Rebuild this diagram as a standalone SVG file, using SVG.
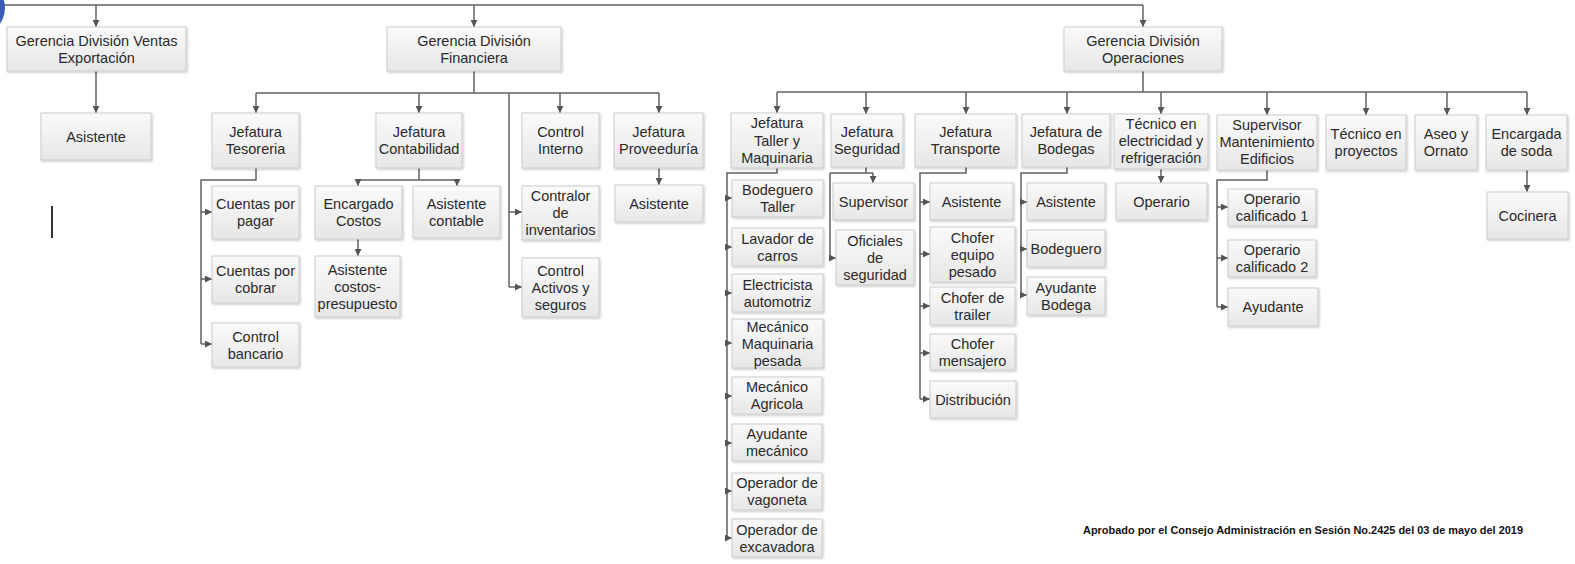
<svg xmlns="http://www.w3.org/2000/svg" width="1575" height="564" viewBox="0 0 1575 564">
  <defs>
    <linearGradient id="boxFill" x1="0" y1="0" x2="0" y2="1">
      <stop offset="0" stop-color="#fafafa"/>
      <stop offset="1" stop-color="#e7e7e7"/>
    </linearGradient>
    <filter id="shadow" x="-10%" y="-10%" width="130%" height="140%">
      <feDropShadow dx="1" dy="1.2" stdDeviation="0.8" flood-color="#000" flood-opacity="0.22"/>
    </filter>
    <marker id="ah" viewBox="0 0 10 10" refX="10" refY="5" markerWidth="7" markerHeight="7" markerUnits="userSpaceOnUse" orient="auto">
      <path d="M0,0 L10,5 L0,10 z" fill="#555"/>
    </marker>
  </defs>
  <style>
    .box { fill: url(#boxFill); stroke: #cdcdcd; stroke-width: 1; filter: url(#shadow); }
    .lbl { font-family: "Liberation Sans", Arial, sans-serif; font-size: 14.5px; fill: #2a2a2a; text-anchor: middle; }
    .wire { fill: none; stroke: #606060; stroke-width: 1.5; }
    .arr { fill: none; stroke: #606060; stroke-width: 1.5; marker-end: url(#ah); }
    .note { font-family: "Liberation Sans", Arial, sans-serif; font-size: 10.5px; font-weight: bold; fill: #111; }
  </style>

  <rect width="1575" height="564" fill="#fff"/>

  <!-- corner badge -->
  <circle cx="-22" cy="8" r="27" fill="#3a5cb8"/>

  <!-- stray cursor mark -->
  <line x1="52" y1="206" x2="52" y2="238" stroke="#000" stroke-width="1.6"/>

  <!-- connectors -->
  <g id="connectors">
    <!-- top bus -->
    <path class="wire" d="M4 5 H1143"/>
    <path class="arr" d="M96 5 V27"/>
    <path class="arr" d="M474 5 V27"/>
    <path class="arr" d="M1143 5 V27"/>

    <!-- ventas -->
    <path class="arr" d="M96 71 V113"/>

    <!-- financiera -->
    <path class="wire" d="M474 71 V93 M256 93 H659 M509 93 V287"/>
    <path class="arr" d="M256 93 V113"/>
    <path class="arr" d="M419 93 V113"/>
    <path class="arr" d="M560 93 V113"/>
    <path class="arr" d="M659 93 V113"/>
    <path class="arr" d="M509 212 H522"/>
    <path class="arr" d="M509 287 H522"/>

    <!-- tesoreria -->
    <path class="wire" d="M256 168 V180 H201 V344"/>
    <path class="arr" d="M201 212 H212"/>
    <path class="arr" d="M201 279 H212"/>
    <path class="arr" d="M201 344 H212"/>

    <!-- contabilidad -->
    <path class="wire" d="M419 168 V180 M358 180 H457"/>
    <path class="arr" d="M358 180 V186"/>
    <path class="arr" d="M457 180 V186"/>
    <path class="arr" d="M358 239 V256"/>

    <!-- proveeduria -->
    <path class="arr" d="M659 168 V185"/>

    <!-- operaciones -->
    <path class="wire" d="M1143 71 V92 M777 92 H1527"/>
    <path class="arr" d="M777 92 V113"/>
    <path class="arr" d="M866 92 V114"/>
    <path class="arr" d="M966 92 V114"/>
    <path class="arr" d="M1067 92 V114"/>
    <path class="arr" d="M1161 92 V114"/>
    <path class="arr" d="M1267 92 V115"/>
    <path class="arr" d="M1366 92 V115"/>
    <path class="arr" d="M1447 92 V115"/>
    <path class="arr" d="M1527 92 V115"/>

    <!-- taller -->
    <path class="wire" d="M777 168 V173 H727 V538"/>
    <path class="arr" d="M727 198 H732"/>
    <path class="arr" d="M727 247 H732"/>
    <path class="arr" d="M727 293 H732"/>
    <path class="arr" d="M727 343 H732"/>
    <path class="arr" d="M727 396 H732"/>
    <path class="arr" d="M727 443 H732"/>
    <path class="arr" d="M727 491 H732"/>
    <path class="arr" d="M727 538 H732"/>

    <!-- seguridad -->
    <path class="wire" d="M866 167 V173 M830 173 H873 M830 173 V258"/>
    <path class="arr" d="M873 173 V183"/>
    <path class="arr" d="M830 258 H836"/>

    <!-- transporte -->
    <path class="wire" d="M966 167 V173 H920 V399"/>
    <path class="arr" d="M920 202 H930"/>
    <path class="arr" d="M920 254 H930"/>
    <path class="arr" d="M920 306 H930"/>
    <path class="arr" d="M920 353 H930"/>
    <path class="arr" d="M920 399 H930"/>

    <!-- bodegas -->
    <path class="wire" d="M1067 167 V173 H1021 V295"/>
    <path class="arr" d="M1021 202 H1027"/>
    <path class="arr" d="M1021 249 H1027"/>
    <path class="arr" d="M1021 295 H1027"/>

    <!-- tecnico electricidad -->
    <path class="arr" d="M1161 169 V183"/>

    <!-- mantenimiento -->
    <path class="wire" d="M1267 170 V180 H1217 V307"/>
    <path class="arr" d="M1217 207 H1228"/>
    <path class="arr" d="M1217 258 H1228"/>
    <path class="arr" d="M1217 307 H1228"/>

    <!-- soda -->
    <path class="arr" d="M1527 170 V192"/>
  </g>

  <!-- top level -->
  <g id="n-ventas"><rect class="box" x="7" y="27" width="179" height="44"/>
    <text class="lbl" x="96.5" y="45.5">Gerencia División Ventas</text><text class="lbl" x="96.5" y="62.5">Exportación</text></g>
  <g id="n-ventas-asistente"><rect class="box" x="41" y="113" width="110" height="47"/>
    <text class="lbl" x="96" y="141.5">Asistente</text></g>
  <g id="n-financiera"><rect class="box" x="387" y="27" width="174" height="44"/>
    <text class="lbl" x="474" y="45.5">Gerencia División</text><text class="lbl" x="474" y="62.5">Financiera</text></g>
  <g id="n-operaciones"><rect class="box" x="1064" y="27" width="158" height="44"/>
    <text class="lbl" x="1143" y="45.5">Gerencia División</text><text class="lbl" x="1143" y="62.5">Operaciones</text></g>

  <!-- financiera -->
  <g id="n-tesoreria"><rect class="box" x="212" y="113" width="87" height="55"/>
    <text class="lbl" x="255.5" y="137">Jefatura</text><text class="lbl" x="255.5" y="154">Tesoreria</text></g>
  <g id="n-contabilidad"><rect class="box" x="376" y="113" width="86" height="55"/>
    <text class="lbl" x="419" y="137">Jefatura</text><text class="lbl" x="419" y="154">Contabilidad</text></g>
  <g id="n-control-interno"><rect class="box" x="522" y="113" width="77" height="55"/>
    <text class="lbl" x="560.5" y="137">Control</text><text class="lbl" x="560.5" y="154">Interno</text></g>
  <g id="n-proveeduria"><rect class="box" x="614" y="113" width="89" height="55"/>
    <text class="lbl" x="658.5" y="137">Jefatura</text><text class="lbl" x="658.5" y="154">Proveeduría</text></g>

  <g id="n-cuentas-pagar"><rect class="box" x="212" y="186" width="87" height="53"/>
    <text class="lbl" x="255.5" y="209">Cuentas por</text><text class="lbl" x="255.5" y="226">pagar</text></g>
  <g id="n-cuentas-cobrar"><rect class="box" x="212" y="256" width="87" height="47"/>
    <text class="lbl" x="255.5" y="276">Cuentas por</text><text class="lbl" x="255.5" y="293">cobrar</text></g>
  <g id="n-control-bancario"><rect class="box" x="212" y="323" width="87" height="44"/>
    <text class="lbl" x="255.5" y="341.5">Control</text><text class="lbl" x="255.5" y="358.5">bancario</text></g>

  <g id="n-encargado-costos"><rect class="box" x="315" y="186" width="87" height="53"/>
    <text class="lbl" x="358.5" y="209">Encargado</text><text class="lbl" x="358.5" y="226">Costos</text></g>
  <g id="n-asistente-costos"><rect class="box" x="315" y="256" width="85" height="61"/>
    <text class="lbl" x="357.5" y="274.5">Asistente</text><text class="lbl" x="357.5" y="291.5">costos-</text><text class="lbl" x="357.5" y="308.5">presupuesto</text></g>
  <g id="n-asistente-contable"><rect class="box" x="413" y="186" width="87" height="52"/>
    <text class="lbl" x="456.5" y="208.5">Asistente</text><text class="lbl" x="456.5" y="225.5">contable</text></g>

  <g id="n-contralor"><rect class="box" x="522" y="186" width="77" height="54"/>
    <text class="lbl" x="560.5" y="201">Contralor</text><text class="lbl" x="560.5" y="218">de</text><text class="lbl" x="560.5" y="235">inventarios</text></g>
  <g id="n-control-activos"><rect class="box" x="522" y="258" width="77" height="59"/>
    <text class="lbl" x="560.5" y="275.5">Control</text><text class="lbl" x="560.5" y="292.5">Activos y</text><text class="lbl" x="560.5" y="309.5">seguros</text></g>
  <g id="n-prov-asistente"><rect class="box" x="615" y="185" width="88" height="37"/>
    <text class="lbl" x="659" y="208.5">Asistente</text></g>

  <!-- operaciones -->
  <g id="n-taller"><rect class="box" x="731" y="113" width="92" height="55"/>
    <text class="lbl" x="777" y="128">Jefatura</text><text class="lbl" x="777" y="145.5">Taller y</text><text class="lbl" x="777" y="163">Maquinaria</text></g>
  <g id="n-seguridad"><rect class="box" x="831" y="114" width="72" height="53"/>
    <text class="lbl" x="867" y="137">Jefatura</text><text class="lbl" x="867" y="154">Seguridad</text></g>
  <g id="n-transporte"><rect class="box" x="915" y="114" width="101" height="53"/>
    <text class="lbl" x="965.5" y="137">Jefatura</text><text class="lbl" x="965.5" y="154">Transporte</text></g>
  <g id="n-bodegas"><rect class="box" x="1022" y="114" width="88" height="53"/>
    <text class="lbl" x="1066" y="137">Jefatura de</text><text class="lbl" x="1066" y="154">Bodegas</text></g>
  <g id="n-tecnico-electricidad"><rect class="box" x="1114" y="114" width="94" height="55"/>
    <text class="lbl" x="1161" y="129">Técnico en</text><text class="lbl" x="1161" y="146">electricidad y</text><text class="lbl" x="1161" y="163">refrigeración</text></g>
  <g id="n-mantenimiento"><rect class="box" x="1217" y="115" width="100" height="55"/>
    <text class="lbl" x="1267" y="130">Supervisor</text><text class="lbl" x="1267" y="147">Mantenimiento</text><text class="lbl" x="1267" y="164">Edificios</text></g>
  <g id="n-tecnico-proyectos"><rect class="box" x="1326" y="115" width="80" height="55"/>
    <text class="lbl" x="1366" y="139">Técnico en</text><text class="lbl" x="1366" y="156">proyectos</text></g>
  <g id="n-aseo"><rect class="box" x="1415" y="115" width="62" height="55"/>
    <text class="lbl" x="1446" y="139">Aseo y</text><text class="lbl" x="1446" y="156">Ornato</text></g>
  <g id="n-soda"><rect class="box" x="1486" y="115" width="81" height="55"/>
    <text class="lbl" x="1526.5" y="139">Encargada</text><text class="lbl" x="1526.5" y="156">de soda</text></g>

  <!-- taller children -->
  <g id="n-bodeguero-taller"><rect class="box" x="732" y="180" width="91" height="37"/>
    <text class="lbl" x="777.5" y="195">Bodeguero</text><text class="lbl" x="777.5" y="212">Taller</text></g>
  <g id="n-lavador"><rect class="box" x="732" y="228" width="91" height="38"/>
    <text class="lbl" x="777.5" y="243.5">Lavador de</text><text class="lbl" x="777.5" y="260.5">carros</text></g>
  <g id="n-electricista"><rect class="box" x="732" y="274" width="91" height="38"/>
    <text class="lbl" x="777.5" y="289.5">Electricista</text><text class="lbl" x="777.5" y="306.5">automotriz</text></g>
  <g id="n-mecanico-maquinaria"><rect class="box" x="732" y="319" width="91" height="49"/>
    <text class="lbl" x="777.5" y="331.5">Mecánico</text><text class="lbl" x="777.5" y="348.5">Maquinaria</text><text class="lbl" x="777.5" y="365.5">pesada</text></g>
  <g id="n-mecanico-agricola"><rect class="box" x="732" y="377" width="90" height="37"/>
    <text class="lbl" x="777" y="392">Mecánico</text><text class="lbl" x="777" y="409">Agricola</text></g>
  <g id="n-ayudante-mecanico"><rect class="box" x="732" y="424" width="90" height="37"/>
    <text class="lbl" x="777" y="439">Ayudante</text><text class="lbl" x="777" y="456">mecánico</text></g>
  <g id="n-operador-vagoneta"><rect class="box" x="732" y="473" width="90" height="37"/>
    <text class="lbl" x="777" y="488">Operador de</text><text class="lbl" x="777" y="505">vagoneta</text></g>
  <g id="n-operador-excavadora"><rect class="box" x="732" y="519" width="90" height="38"/>
    <text class="lbl" x="777" y="534.5">Operador de</text><text class="lbl" x="777" y="551.5">excavadora</text></g>

  <!-- seguridad children -->
  <g id="n-supervisor"><rect class="box" x="833" y="183" width="81" height="37"/>
    <text class="lbl" x="873.5" y="206.5">Supervisor</text></g>
  <g id="n-oficiales"><rect class="box" x="836" y="230" width="78" height="55"/>
    <text class="lbl" x="875" y="245.5">Oficiales</text><text class="lbl" x="875" y="262.5">de</text><text class="lbl" x="875" y="279.5">seguridad</text></g>

  <!-- transporte children -->
  <g id="n-trans-asistente"><rect class="box" x="930" y="183" width="83" height="37"/>
    <text class="lbl" x="971.5" y="206.5">Asistente</text></g>
  <g id="n-chofer-equipo"><rect class="box" x="930" y="227" width="85" height="55"/>
    <text class="lbl" x="972.5" y="242.5">Chofer</text><text class="lbl" x="972.5" y="259.5">equipo</text><text class="lbl" x="972.5" y="276.5">pesado</text></g>
  <g id="n-chofer-trailer"><rect class="box" x="930" y="287" width="85" height="38"/>
    <text class="lbl" x="972.5" y="302.5">Chofer de</text><text class="lbl" x="972.5" y="319.5">trailer</text></g>
  <g id="n-chofer-mensajero"><rect class="box" x="930" y="334" width="85" height="36"/>
    <text class="lbl" x="972.5" y="348.5">Chofer</text><text class="lbl" x="972.5" y="365.5">mensajero</text></g>
  <g id="n-distribucion"><rect class="box" x="930" y="381" width="86" height="37"/>
    <text class="lbl" x="973" y="404.5">Distribución</text></g>

  <!-- bodegas children -->
  <g id="n-bod-asistente"><rect class="box" x="1027" y="183" width="78" height="37"/>
    <text class="lbl" x="1066" y="206.5">Asistente</text></g>
  <g id="n-bodeguero"><rect class="box" x="1027" y="230" width="78" height="37"/>
    <text class="lbl" x="1066" y="253.5">Bodeguero</text></g>
  <g id="n-ayudante-bodega"><rect class="box" x="1027" y="277" width="78" height="38"/>
    <text class="lbl" x="1066" y="292.5">Ayudante</text><text class="lbl" x="1066" y="309.5">Bodega</text></g>

  <!-- tecnico / mantenimiento / soda children -->
  <g id="n-operario"><rect class="box" x="1116" y="183" width="91" height="37"/>
    <text class="lbl" x="1161.5" y="206.5">Operario</text></g>
  <g id="n-operario-1"><rect class="box" x="1228" y="189" width="88" height="37"/>
    <text class="lbl" x="1272" y="204">Operario</text><text class="lbl" x="1272" y="221">calificado 1</text></g>
  <g id="n-operario-2"><rect class="box" x="1228" y="240" width="88" height="37"/>
    <text class="lbl" x="1272" y="255">Operario</text><text class="lbl" x="1272" y="272">calificado 2</text></g>
  <g id="n-mant-ayudante"><rect class="box" x="1228" y="288" width="90" height="38"/>
    <text class="lbl" x="1273" y="312">Ayudante</text></g>
  <g id="n-cocinera"><rect class="box" x="1487" y="192" width="81" height="47"/>
    <text class="lbl" x="1527.5" y="220.5">Cocinera</text></g>

  <!-- approval note -->
  <text class="note" x="1083" y="533.5" textLength="440" lengthAdjust="spacingAndGlyphs">Aprobado por el Consejo Administración en Sesión No.2425 del 03 de mayo del 2019</text>
</svg>
